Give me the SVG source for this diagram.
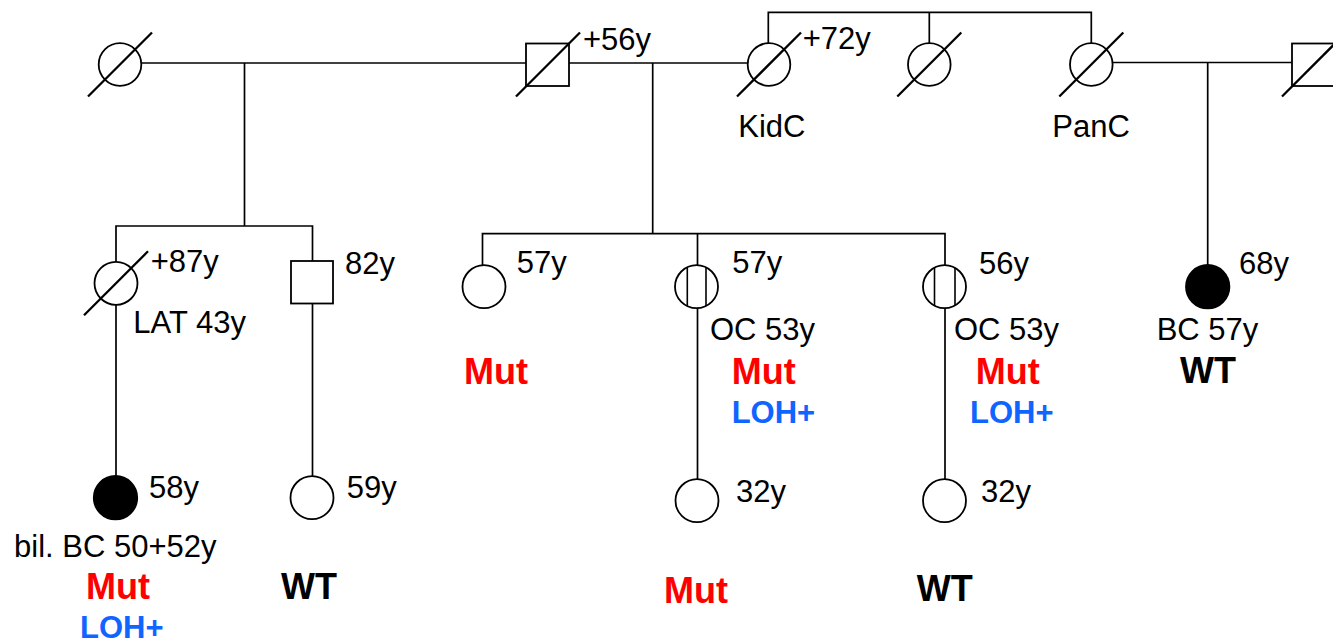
<svg xmlns="http://www.w3.org/2000/svg" width="1333" height="644" viewBox="0 0 1333 644">
<style>
.ln{stroke:#000;stroke-width:1.7;fill:none}
.sym{stroke:#000;stroke-width:1.8;fill:#fff}
.fill{stroke:#000;stroke-width:1.8;fill:#000}
.sl{stroke:#000;stroke-width:2.3}
.in{stroke:#000;stroke-width:1.6}
text{font-family:"Liberation Sans",Arial,Helvetica,sans-serif}
.t{font-size:31px;fill:#000}
.mut{font-size:36px;font-weight:bold;fill:#ff0000}
.wt{font-size:36px;font-weight:bold;fill:#000}
.loh{font-size:31px;font-weight:bold;fill:#1064ff}
</style>
<rect width="1333" height="644" fill="#fff"/>
<g id="connectors">
<line class="ln" x1="141" y1="63" x2="526" y2="63"/>
<line class="ln" x1="569" y1="63" x2="748" y2="63"/>
<line class="ln" x1="1112.5" y1="62.5" x2="1292" y2="62.5"/>
<line class="ln" x1="244.5" y1="63" x2="244.5" y2="226"/>
<polyline class="ln" points="116,262 116,226 312.5,226 312.5,261"/>
<line class="ln" x1="116" y1="305" x2="116" y2="476"/>
<line class="ln" x1="312.5" y1="303.5" x2="312.5" y2="476"/>
<line class="ln" x1="652.7" y1="63" x2="652.7" y2="233.7"/>
<polyline class="ln" points="482.5,265 482.5,233.7 945,233.7 945,265"/>
<line class="ln" x1="697.5" y1="233.7" x2="697.5" y2="265"/>
<line class="ln" x1="697.5" y1="308" x2="697.5" y2="479"/>
<line class="ln" x1="945" y1="308" x2="945" y2="479"/>
<polyline class="ln" points="768.3,43 768.3,12.3 1091.3,12.3 1091.3,43"/>
<line class="ln" x1="929.3" y1="12.3" x2="929.3" y2="43"/>
<line class="ln" x1="1207.7" y1="62.5" x2="1207.7" y2="265"/>
</g>
<g id="n-grandmother-left">
<circle class="sym" cx="120" cy="64.5" r="21.3"/>
<line class="sl" x1="88" y1="96.5" x2="152" y2="32.5"/>
</g>
<g id="n-grandfather">
<rect class="sym" x="526" y="43.5" width="43" height="42.5"/>
<line class="sl" x1="516" y1="96.5" x2="580" y2="32.5"/>
<text class="t" x="583" y="50">+56y</text>
</g>
<g id="n-grandmother">
<circle class="sym" cx="769" cy="64.5" r="21.3"/>
<line class="sl" x1="737" y1="96.5" x2="801" y2="32.5"/>
<text class="t" x="802.7" y="49.3">+72y</text>
<text class="t" x="738.3" y="136.7">KidC</text>
</g>
<g id="n-sister2">
<circle class="sym" cx="929.3" cy="64.5" r="21.3"/>
<line class="sl" x1="897.3" y1="96.5" x2="961.3" y2="32.5"/>
</g>
<g id="n-sister3">
<circle class="sym" cx="1091.3" cy="64.5" r="21.3"/>
<line class="sl" x1="1059.3" y1="96.5" x2="1123.3" y2="32.5"/>
<text class="t" x="1052.3" y="136.7">PanC</text>
</g>
<g id="n-husband-right">
<rect class="sym" x="1292" y="43.5" width="43" height="42.5"/>
<line class="sl" x1="1282" y1="96.5" x2="1346" y2="32.5"/>
</g>
<g id="n-aunt">
<circle class="sym" cx="116" cy="283.3" r="21.5"/>
<line class="sl" x1="84" y1="315.3" x2="148" y2="251.3"/>
<text class="t" x="150.7" y="271.5">+87y</text>
<text class="t" x="133.3" y="333.3">LAT 43y</text>
</g>
<g id="n-uncle">
<rect class="sym" x="291" y="261" width="42" height="42.5"/>
<text class="t" x="345" y="274">82y</text>
</g>
<g id="n-cousin1">
<circle class="fill" cx="115.5" cy="497.7" r="21.7"/>
<text class="t" x="149" y="498.3">58y</text>
<text class="t" x="14" y="556.7">bil. BC 50+52y</text>
<text class="mut" x="86" y="599.3">Mut</text>
<text class="loh" x="80" y="638">LOH+</text>
</g>
<g id="n-cousin2">
<circle class="sym" cx="312" cy="497.7" r="21.5"/>
<text class="t" x="346.7" y="498">59y</text>
<text class="wt" x="281" y="599.3">WT</text>
</g>
<g id="n-mother-sib">
<circle class="sym" cx="484" cy="286.7" r="21.5"/>
<text class="t" x="516.7" y="273.3">57y</text>
<text class="mut" x="464" y="384">Mut</text>
</g>
<g id="n-oc1">
<circle class="sym" cx="696.5" cy="286.7" r="21.5"/>
<line class="in" x1="687.3" y1="267.5" x2="687.3" y2="305.9"/>
<line class="in" x1="706" y1="267.5" x2="706" y2="305.9"/>
<text class="t" x="732.3" y="273">57y</text>
<text class="t" x="710" y="340">OC 53y</text>
<text class="mut" x="731.7" y="384">Mut</text>
<text class="loh" x="731.7" y="423.3">LOH+</text>
</g>
<g id="n-oc2">
<circle class="sym" cx="944.5" cy="286.7" r="21.5"/>
<line class="in" x1="934.5" y1="267.9" x2="934.5" y2="305.5"/>
<line class="in" x1="955" y1="267.9" x2="955" y2="305.5"/>
<text class="t" x="979" y="274">56y</text>
<text class="t" x="954" y="340">OC 53y</text>
<text class="mut" x="975.7" y="384">Mut</text>
<text class="loh" x="970" y="423.3">LOH+</text>
</g>
<g id="n-bc">
<circle class="fill" cx="1207.7" cy="286.7" r="21.7"/>
<text class="t" x="1239" y="274">68y</text>
<text class="t" x="1156.7" y="340">BC 57y</text>
<text class="wt" x="1180" y="382.7">WT</text>
</g>
<g id="n-child1">
<circle class="sym" cx="697" cy="500.7" r="21.5"/>
<text class="t" x="736" y="501.7">32y</text>
<text class="mut" x="664" y="602.7">Mut</text>
</g>
<g id="n-child2">
<circle class="sym" cx="944.5" cy="500.7" r="21.5"/>
<text class="t" x="981" y="501.7">32y</text>
<text class="wt" x="916.7" y="600.7">WT</text>
</g>
</svg>
